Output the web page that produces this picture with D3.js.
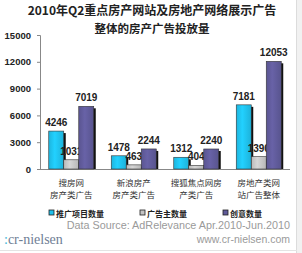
<!DOCTYPE html>
<html><head><meta charset="utf-8">
<script src="https://cdn.jsdelivr.net/npm/d3@7"></script>
<style>body{margin:0;background:#fff}svg{display:block}</style>
</head><body>
<svg id="c" width="302" height="253"></svg>
<script>
const categories = [["搜房网","房产类广告"],["新浪房产","房产类广告"],["搜狐焦点网房","产类广告"],["房地产类网","站广告整体"]];
const seriesNames = ["推广项目数量","广告主数量","创意数量"];
const projects = [4246,1478,1312,7181];
const advertisers = [1031,463,404,1390];
const creatives = [7019,2244,2240,12053];
const yTicks = [0,3000,6000,9000,12000,15000];
const colors = ["#1fbfea","#c4c4c4","#5f5a99"];

const svg = d3.select("#c");
// frame
svg.append("rect").attr("x",296).attr("y",0).attr("width",6).attr("height",253).attr("fill","#f1f1f1");
svg.append("line").attr("x1",296.5).attr("x2",296.5).attr("y1",0).attr("y2",253).attr("stroke","#dcdcdc");
svg.append("line").attr("x1",0).attr("x2",297).attr("y1",250.5).attr("y2",250.5).attr("stroke","#e4e4e4");

const defs = svg.append("defs");
colors.forEach((c,i)=>{
  const g = defs.append("linearGradient").attr("id","g"+i).attr("x1","0").attr("x2","1");
  g.append("stop").attr("offset","0").attr("stop-color",d3.color(c).darker(0.15));
  g.append("stop").attr("offset","0.4").attr("stop-color",d3.color(c).brighter(0.25));
  g.append("stop").attr("offset","1").attr("stop-color",d3.color(c).darker(0.2));
});

svg.append("text").attr("x",152).attr("y",15).attr("text-anchor","middle")
  .attr("font-family","Noto Sans CJK SC").attr("font-weight","bold").attr("font-size",12).attr("fill","#222")
  .text("2010年Q2重点房产网站及房地产网络展示广告");
svg.append("text").attr("x",152).attr("y",33).attr("text-anchor","middle")
  .attr("font-family","Noto Sans CJK SC").attr("font-weight","bold").attr("font-size",11.5).attr("fill","#222")
  .text("整体的房产广告投放量");

const x0 = d3.scaleBand().domain(d3.range(categories.length)).range([40,290]).paddingInner(0.28).paddingOuter(0.14);
const x1 = d3.scaleBand().domain(d3.range(3)).range([0,x0.bandwidth()]);
const y = d3.scaleLinear().domain([0,15000]).range([169,35]);

const yAxis = svg.append("g").attr("transform","translate(40,0)")
  .call(d3.axisLeft(y).tickValues(yTicks).tickSize(3).tickFormat(d3.format("d")));
yAxis.select(".domain").attr("stroke","#888");
yAxis.selectAll(".tick line").attr("stroke","#888");
yAxis.selectAll("text").attr("font-family","Liberation Sans").attr("font-weight","bold").attr("font-size",9.5).attr("fill","#222").attr("dx",-3);

svg.append("line").attr("x1",40).attr("x2",290).attr("y1",y(0)+0.5).attr("y2",y(0)+0.5).attr("stroke","#888");

const data = [projects,advertisers,creatives];
categories.forEach((cat,ci)=>{
  const g = svg.append("g").attr("transform",`translate(${x0(ci)},0)`);
  data.forEach((arr,si)=>{
    const v = arr[ci];
    const bx = x1(si), bw = x1.bandwidth();
    g.append("rect").attr("x",bx+2).attr("y",y(v)+2).attr("width",bw).attr("height",y(0)-y(v)-2).attr("fill","#111");
    g.append("rect").attr("x",bx).attr("y",y(v)).attr("width",bw).attr("height",y(0)-y(v))
      .attr("fill",`url(#g${si})`).attr("stroke","#333").attr("stroke-width",0.6);
    g.append("text").attr("x",bx+bw/2).attr("y",y(v)-5).attr("text-anchor","middle")
      .attr("font-family","Liberation Sans").attr("font-weight","bold").attr("font-size",10).attr("fill","#222").text(v);
  });
  cat.forEach((line,li)=>{
    svg.append("text").attr("x",x0(ci)+x0.bandwidth()/2).attr("y",186+li*12).attr("text-anchor","middle")
      .attr("font-family","Noto Sans CJK SC").attr("font-size",8.5).attr("fill","#333").text(line);
  });
});

const legX = [49,140,223];
seriesNames.forEach((n,i)=>{
  svg.append("rect").attr("x",legX[i]).attr("y",210).attr("width",5).attr("height",5).attr("fill",colors[i]).attr("stroke","#222").attr("stroke-width",0.8);
  svg.append("text").attr("x",legX[i]+7).attr("y",216.5).attr("font-family","Noto Sans CJK SC").attr("font-weight","bold")
    .attr("font-size",8).attr("fill","#222").text(n);
});

svg.append("text").attr("x",290).attr("y",229).attr("text-anchor","end").attr("font-family","Liberation Sans")
  .attr("font-size",10.8).attr("fill","#9a9a9a").text("Data Source: AdRelevance Apr.2010-Jun.2010");
svg.append("text").attr("x",290).attr("y",243).attr("text-anchor","end").attr("font-family","Liberation Sans")
  .attr("font-size",10.5).attr("fill","#9a9a9a").text("www.cr-nielsen.com");
const logo = svg.append("text").attr("x",4).attr("y",244).attr("font-family","Liberation Serif").attr("font-size",14).attr("fill","#6f7e95");
logo.append("tspan").attr("fill","#3fb6d8").text(":");
logo.append("tspan").text("cr-nielsen");
</script>
</body></html>
